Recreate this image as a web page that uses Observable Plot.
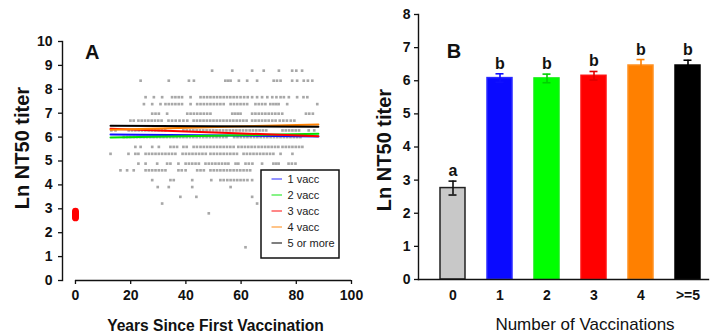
<!DOCTYPE html>
<html><head><meta charset="utf-8">
<script src="https://cdn.jsdelivr.net/npm/d3@7"></script>
<script src="https://cdn.jsdelivr.net/npm/@observablehq/plot@0.6"></script>
<style>
html,body{margin:0;padding:0;background:#fff;}
#wrap{position:relative;width:711px;height:336px;overflow:hidden;font-family:"Liberation Sans",Arial,sans-serif;}
#wrap svg{position:absolute;top:0;}
</style></head><body><div id="wrap"></div>
<script>
// ---------- Panel A data ----------
const scatterLevels = [8.78, 8.36, 7.67, 7.38, 6.98, 6.69, 6.28, 6.00, 5.59, 5.30, 4.89, 4.61, 4.20, 3.91, 3.50, 3.22, 2.81, 1.39];
const scatterYears = [
  [49.5, 56.8, 64.0, 68.2, 73.7, 78.5, 80.0, 82.1],
  [23.6, 33.8, 41.1, 42.9, 54.3, 55.3, 56.2, 59.2, 62.2, 65.8, 71.8, 73.0, 74.3, 78.5, 80.3, 82.7, 84.2, 85.8],
  [25.4, 28.4, 31.4, 35.0, 36.2, 37.4, 38.6, 41.7, 45.3, 46.5, 47.7, 48.9, 50.1, 51.3, 52.5, 53.7, 54.9, 56.1, 57.3, 58.5, 59.8, 61.1, 62.4, 64.0, 65.8, 67.6, 69.5, 71.3, 72.8, 74.3, 75.5, 77.3, 80.3, 82.6, 84.0],
  [24.8, 27.8, 30.8, 32.6, 33.8, 35.0, 36.2, 37.4, 38.6, 41.7, 44.1, 45.3, 46.5, 47.7, 48.9, 50.1, 51.3, 52.5, 53.7, 56.2, 57.4, 58.6, 59.8, 61.0, 62.2, 65.2, 66.4, 67.6, 68.8, 70.6, 71.7, 72.7, 73.6, 76.7, 87.6],
  [27.8, 29.0, 30.2, 33.2, 40.5, 41.7, 42.9, 44.1, 45.3, 46.5, 47.7, 48.9, 56.8, 57.8, 58.8, 59.8, 64.0, 65.2, 66.4, 67.6, 68.8, 70.0, 71.2, 72.4, 73.6, 74.9, 83.5, 84.7, 86.0],
  [19.9, 21.1, 22.8, 24.0, 25.2, 26.4, 27.6, 28.8, 30.0, 31.2, 33.7, 35.0, 36.3, 37.7, 39.1, 40.5, 42.8, 44.0, 45.2, 46.4, 47.6, 48.8, 50.0, 51.2, 52.4, 53.6, 54.8, 56.0, 57.2, 58.4, 59.6, 60.8, 62.0, 64.0, 65.2, 66.4, 67.6, 68.8, 70.0, 71.3, 72.5, 74.0, 75.3, 76.6, 78.0, 79.3],
  [13.0, 14.5, 19.3, 20.5, 21.7, 22.9, 24.1, 25.3, 26.5, 27.7, 28.9, 30.1, 31.3, 32.5, 39.1, 40.3, 41.5, 42.7, 43.9, 45.1, 46.3, 47.5, 48.7, 49.9, 51.1, 52.3, 53.5, 54.7, 55.9, 57.1, 58.3, 59.5, 60.7, 61.9, 63.1, 64.3, 65.5, 66.7, 67.9, 69.1, 75.0, 76.2, 77.4, 78.6, 79.8, 81.0, 84.5, 86.5],
  [17.5, 18.7, 19.9, 21.1, 22.3, 23.5, 24.7, 25.9, 27.1, 28.3, 29.5, 30.7, 31.9, 33.1, 34.3, 35.5, 36.7, 37.9, 39.1, 40.3, 41.5, 42.7, 43.9, 45.1, 46.3, 47.5, 48.7, 49.9, 51.1, 52.3, 53.5, 54.7, 57.5, 58.7, 59.9, 61.1, 62.3, 63.5, 64.7, 65.9, 67.1, 68.3, 69.5, 70.7, 71.9, 73.1, 74.3, 75.5, 76.7, 77.9, 79.1, 80.3, 81.5],
  [21.7, 23.6, 27.8, 30.2, 34.4, 35.6, 36.8, 39.1, 40.3, 42.8, 44.0, 45.3, 46.5, 47.7, 48.9, 50.1, 51.3, 52.5, 53.7, 54.9, 56.1, 57.3, 59.0, 60.2, 61.4, 62.6, 63.8, 65.0, 66.3, 67.5, 68.7, 69.9, 71.1, 72.3, 73.5, 75.0, 76.2, 77.4, 78.6, 79.8, 81.0, 82.2],
  [12.7, 19.2, 21.7, 22.8, 25.4, 26.6, 27.8, 29.0, 30.2, 31.4, 32.6, 33.8, 35.0, 36.2, 38.8, 40.0, 41.2, 42.4, 43.6, 44.8, 46.0, 47.2, 48.9, 50.1, 51.3, 52.5, 53.7, 54.9, 56.1, 57.3, 58.5, 60.9, 62.1, 63.3, 64.5, 65.7, 66.9, 68.1, 69.3, 70.5, 71.7, 74.3, 78.6],
  [22.8, 25.4, 29.6, 33.2, 34.4, 37.3, 39.9, 41.1, 42.3, 43.5, 44.7, 47.1, 48.3, 49.5, 50.7, 51.9, 53.1, 54.3, 55.4, 58.0, 59.0, 61.6, 62.8, 64.1, 67.6, 71.7, 72.7, 73.6, 77.2, 78.4, 79.7],
  [16.3, 18.7, 21.1, 25.4, 26.6, 27.8, 29.0, 30.2, 31.4, 32.6, 37.3, 38.5, 39.9, 44.1, 45.3, 46.5, 48.9, 50.1, 51.3, 52.5, 53.7, 54.9, 56.1, 57.3, 58.5, 59.7, 60.9, 62.1, 63.3],
  [27.8, 34.4, 35.6, 42.3, 49.2, 52.5, 53.7, 55.0, 56.2, 57.4, 58.6, 59.8, 61.0, 62.3, 64.0],
  [29.8, 33.8, 42.3, 56.2],
  [38.0, 43.8, 64.0],
  [31.4, 65.8],
  [48.3],
  [61.6]
];
const unvaccYears = [0, 0, 0, 0, 0, 0, 0];
const unvaccTiters = [2.62, 2.67, 2.72, 2.76, 2.80, 2.85, 2.90];

const seriesNames = ["1 vacc", "2 vacc", "3 vacc", "4 vacc", "5 or more"];
const seriesColors = ["#1010ff", "#00e000", "#ff0000", "#ff8000", "#000000"];
const legendColors = ["#6f6fff", "#5fef5f", "#ff5f5f", "#ffb060", "#555555"];
const fitYears = [12.7, 88.0];
const fitStart = [6.11, 5.98, 6.35, 6.31, 6.47];
const fitEnd = [6.03, 6.14, 6.04, 6.53, 6.43];

const xTicksA = [0, 20, 40, 60, 80, 100];
const yTicksA = [0, 1, 2, 3, 4, 5, 6, 7, 8, 9, 10];

// ---------- Panel B data ----------
const vaccCategories = ["0", "1", "2", "3", "4", ">=5"];
const barMeans = [2.76, 6.08, 6.07, 6.15, 6.46, 6.46];
const barErrors = [0.21, 0.13, 0.13, 0.13, 0.18, 0.16];
const barLetters = ["a", "b", "b", "b", "b", "b"];
const barFills = ["#c8c8c8", "#0a0aff", "#00ff00", "#ff0000", "#ff8000", "#000000"];
const barEdges = ["#222222", "#2a2aff", "#10f010", "#ff1010", "#ff9020", "#000000"];
const errColors = ["#111111", "#1010ff", "#00d000", "#e00000", "#ff8000", "#000000"];
const yTicksB = [0, 1, 2, 3, 4, 5, 6, 7, 8];

const FONT = "'Liberation Sans', Arial, Helvetica, sans-serif";
const svgStyle = {fontFamily: FONT, overflow: "visible", background: "transparent", color: "#111"};
const wrap = document.getElementById("wrap");

// ---------- Panel A ----------
const pts = scatterLevels.flatMap((lv, i) => scatterYears[i].map(yr => ({year: yr, titer: lv})));
const unv = unvaccTiters.map((t, i) => ({year: unvaccYears[i], titer: t}));
const fits = seriesNames.map((n, i) => [
  {year: fitYears[0], titer: fitStart[i]},
  {year: fitYears[1], titer: fitEnd[i]}
]);

const plotA = Plot.plot({
  width: 362, height: 336,
  marginLeft: 62, marginRight: 11, marginTop: 41, marginBottom: 56,
  x: {domain: [-4.7, 100]},
  y: {domain: [0, 10]},
  style: svgStyle,
  marks: [
    Plot.frame({anchor: "left", stroke: "#111", strokeWidth: 1.4}),
    Plot.ruleY([0], {x1: () => xTicksA[0], x2: () => xTicksA[xTicksA.length - 1], stroke: "#111", strokeWidth: 1.4}),
    Plot.axisY({ticks: yTicksA, tickSize: 4, tickPadding: 6, fontSize: 14, fontWeight: "bold", label: null, strokeWidth: 1.3}),
    Plot.axisX({ticks: xTicksA, tickSize: 4, tickPadding: 6, fontSize: 14, fontWeight: "bold", label: null, strokeWidth: 1.3}),
    Plot.dot(pts, {x: "year", y: "titer", symbol: "square", r: 1.5, fill: "#a8a8a8", stroke: "none"}),
    Plot.dot(unv, {x: "year", y: "titer", r: 3.4, fill: "#ff0000", stroke: "none"}),
    ...fits.map((f, i) => Plot.line(f, {x: "year", y: "titer", stroke: seriesColors[i], strokeWidth: 2}))
  ]
});
plotA.style.left = "0px";
wrap.appendChild(plotA);

const sA = d3.select(plotA);
sA.append("text").attr("x", 85).attr("y", 58.5).attr("text-anchor", "start").attr("font-size", 20).attr("font-weight", "bold")
  .attr("font-family", FONT).attr("fill", "#111").text("A");
sA.append("text").attr("transform", "translate(29,148) rotate(-90)").attr("text-anchor", "middle")
  .attr("font-size", 20).attr("font-weight", "bold").attr("font-family", FONT).attr("fill", "#111").text("Ln NT50 titer");
sA.append("text").attr("x", 215.5).attr("y", 330.5).attr("text-anchor", "middle")
  .attr("font-size", 15.6).attr("font-weight", "bold").attr("font-family", FONT).attr("fill", "#111").text("Years Since First Vaccination");

// legend
const lg = sA.append("g");
lg.append("rect").attr("x", 261).attr("y", 170).attr("width", 78).attr("height", 88)
  .attr("fill", "#fff").attr("stroke", "#111").attr("stroke-width", 1.5);
seriesNames.forEach((n, i) => {
  const cy = 179 + i * 16;
  lg.append("line").attr("x1", 271.5).attr("x2", 282).attr("y1", cy).attr("y2", cy)
    .attr("stroke", legendColors[i]).attr("stroke-width", 1.5);
  lg.append("text").attr("x", 287.5).attr("y", cy).attr("dy", "0.35em").attr("text-anchor", "start").attr("font-size", 11)
    .attr("font-family", FONT).attr("fill", "#222").text(n);
});

// ---------- Panel B ----------
const bars = vaccCategories.map((c, i) => ({
  cat: c, mean: barMeans[i], err: barErrors[i], letter: barLetters[i],
  fill: barFills[i], edge: barEdges[i], ecol: errColors[i]
}));

const plotB = Plot.plot({
  width: 351, height: 336,
  marginLeft: 58, marginRight: 3, marginTop: 14, marginBottom: 57,
  x: {domain: vaccCategories, range: [58, 362], paddingInner: 0.476, paddingOuter: 0.4256},
  y: {domain: [0, 8]},
  color: {type: "identity"},
  style: svgStyle,
  marks: [
    Plot.barY(bars, {x: "cat", y: "mean", fill: "fill", stroke: "edge", strokeWidth: 1.5}),
    Plot.ruleX(bars, {x: "cat", y1: d => d.mean - d.err, y2: d => d.mean + d.err, stroke: "ecol", strokeWidth: 1.6}),
    Plot.tickY(bars, {x: "cat", y: d => d.mean + d.err, stroke: "ecol", strokeWidth: 1.6, insetLeft: 8.5, insetRight: 8.5}),
    Plot.tickY(bars, {x: "cat", y: d => d.mean - d.err, stroke: "ecol", strokeWidth: 1.6, insetLeft: 8.5, insetRight: 8.5}),
    Plot.text(bars, {x: "cat", y: d => d.mean + d.err, text: "letter", dy: -5, lineAnchor: "bottom", fontSize: 16, fontWeight: "bold", fill: "#111"}),
    Plot.frame({anchor: "left", stroke: "#111", strokeWidth: 1.4}),
    Plot.frame({anchor: "bottom", stroke: "#111", strokeWidth: 1.4}),
    Plot.axisY({ticks: yTicksB, tickSize: 4, tickPadding: 4, fontSize: 14, fontWeight: "bold", label: null, strokeWidth: 1.3}),
    Plot.axisX({tickSize: 0, tickPadding: 11, fontSize: 14, fontWeight: "bold", label: null})
  ]
});
plotB.style.left = "360px";
wrap.appendChild(plotB);

const sB = d3.select(plotB);
sB.append("text").attr("x", 86.7).attr("y", 58.3).attr("text-anchor", "start").attr("font-size", 20).attr("font-weight", "bold")
  .attr("font-family", FONT).attr("fill", "#111").text("B");
sB.append("text").attr("transform", "translate(30.5,150) rotate(-90)").attr("text-anchor", "middle")
  .attr("font-size", 20).attr("font-weight", "bold").attr("font-family", FONT).attr("fill", "#111").text("Ln NT50 titer");
sB.append("text").attr("x", 225).attr("y", 330).attr("text-anchor", "middle")
  .attr("font-size", 17).attr("font-family", FONT).attr("fill", "#111").text("Number of Vaccinations");
</script></body></html>
